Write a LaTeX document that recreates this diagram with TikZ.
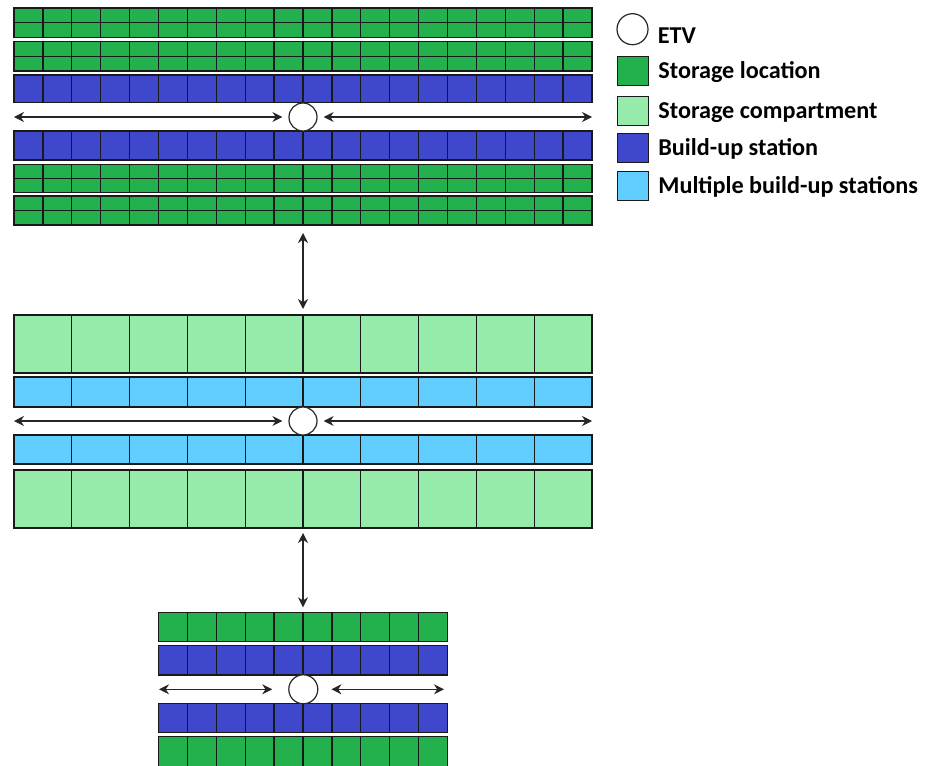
\documentclass[tikz,border=0pt]{standalone}
\usepackage{fontspec}
\setmainfont{Carlito}
\usetikzlibrary{arrows.meta,positioning}
\definecolor{lagerplatz}{RGB}{34,177,76}
\definecolor{fach}{RGB}{150,234,170}
\definecolor{station}{RGB}{63,72,204}
\definecolor{mehrfach}{RGB}{97,206,255}
\begin{document}
\begin{tikzpicture}[x=1pt, y=-1pt,
  zelle/.style={draw=black!90, line width=1.35pt},
  etv/.style={circle, draw=black!85, fill=white, line width=1.2pt, minimum size=28pt, inner sep=0pt},
  pfeil/.style={{Stealth[length=10pt,width=10pt]}-{Stealth[length=10pt,width=10pt]}, line width=1.1pt, black!85},
  legende/.style={font=\bfseries\fontsize{24.2}{27}\selectfont, inner sep=0pt, text height=15pt, text depth=0pt, anchor=west}]
  \useasboundingbox (0,0) rectangle (928,765);
  \clip (0,0) rectangle (928,765);

  % --- oberes Lager: 20 Lagerplaetze je Reihe ---
  \foreach \y/\h/\c in {8/14.6/lagerplatz, 22.6/14.6/lagerplatz, 41.7/14.6/lagerplatz, 56.3/14.6/lagerplatz,
                        75/27.5/station, 131/29/station,
                        164.3/14/lagerplatz, 178.3/14/lagerplatz, 196/14.5/lagerplatz, 210.5/14.5/lagerplatz}
    \foreach \i in {0,...,19}
      \draw[zelle, fill=\c] (14+\i*28.9,\y) rectangle ++(28.9,\h);

  % --- mittleres Lager: Lagerfaecher und Mehrfach-Stationen ---
  \foreach \y/\h/\c in {315/58/fach, 377/30/mehrfach, 435/29/mehrfach, 470/58/fach}
    \foreach \i in {0,...,9}
      \draw[zelle, fill=\c] (14+\i*57.8,\y) rectangle ++(57.8,\h);

  % --- unteres Lager ---
  \foreach \y/\h/\c in {612.3/29.4/lagerplatz, 645.7/29.3/station, 703.3/29/station, 736.7/30/lagerplatz}
    \foreach \i in {0,...,9}
      \draw[zelle, fill=\c] (158.5+\i*28.9,\y) rectangle ++(28.9,\h);

  % ETV in den Gassen
  \node[etv] (etv-o) at (303,117) {};
  \node[etv] (etv-m) at (303,421) {};
  \node[etv, minimum size=29pt] (etv-u) at (303.3,689.3) {};

  \coordinate (o-l) at (14,117);     \coordinate (o-r) at (592,117);
  \coordinate (m-l) at (14,421);     \coordinate (m-r) at (592,421);
  \coordinate (u-l) at (159,689.3);  \coordinate (u-r) at (444,689.3);
  \coordinate (o-s) at (303,225);    \coordinate (m-n) at (303,315);
  \coordinate (m-s) at (303,528);    \coordinate (u-n) at (303,612.3);

  % Fahrwege
  \draw[pfeil, shorten >=6pt] (o-l) -- (etv-o.west);
  \draw[pfeil, shorten <=6pt] (etv-o.east) -- (o-r);
  \draw[pfeil, shorten >=6pt] (m-l) -- (etv-m.west);
  \draw[pfeil, shorten <=6pt] (etv-m.east) -- (m-r);
  \draw[pfeil, shorten >=16pt] (u-l) -- (etv-u.west);
  \draw[pfeil, shorten <=13pt] (etv-u.east) -- (u-r);
  \draw[pfeil, shorten <=8pt, shorten >=6pt] (o-s) -- (m-n);
  \draw[pfeil, shorten <=5pt, shorten >=5pt] (m-s) -- (u-n);

  % --- Legende ---
  \node[etv, minimum size=31pt] (l-etv) at (632.5,29.2) {};
  \node[legende, right=9pt of l-etv, yshift=-6.5pt] (t-etv) {ETV};
  \foreach \n/\c/\y/\t in {1/lagerplatz/71/Storage location, 2/fach/111/Storage compartment,
                           3/station/148.3/Build-up station, 4/mehrfach/186/Multiple build-up stations} {
    \node[zelle, fill=\c, minimum width=31pt, minimum height=29pt, inner sep=0pt] (l-\n) at (633,\y) {};
    \node[legende, right=9pt of l-\n] (t-\n) {\t};
  }
\end{tikzpicture}
\end{document}
